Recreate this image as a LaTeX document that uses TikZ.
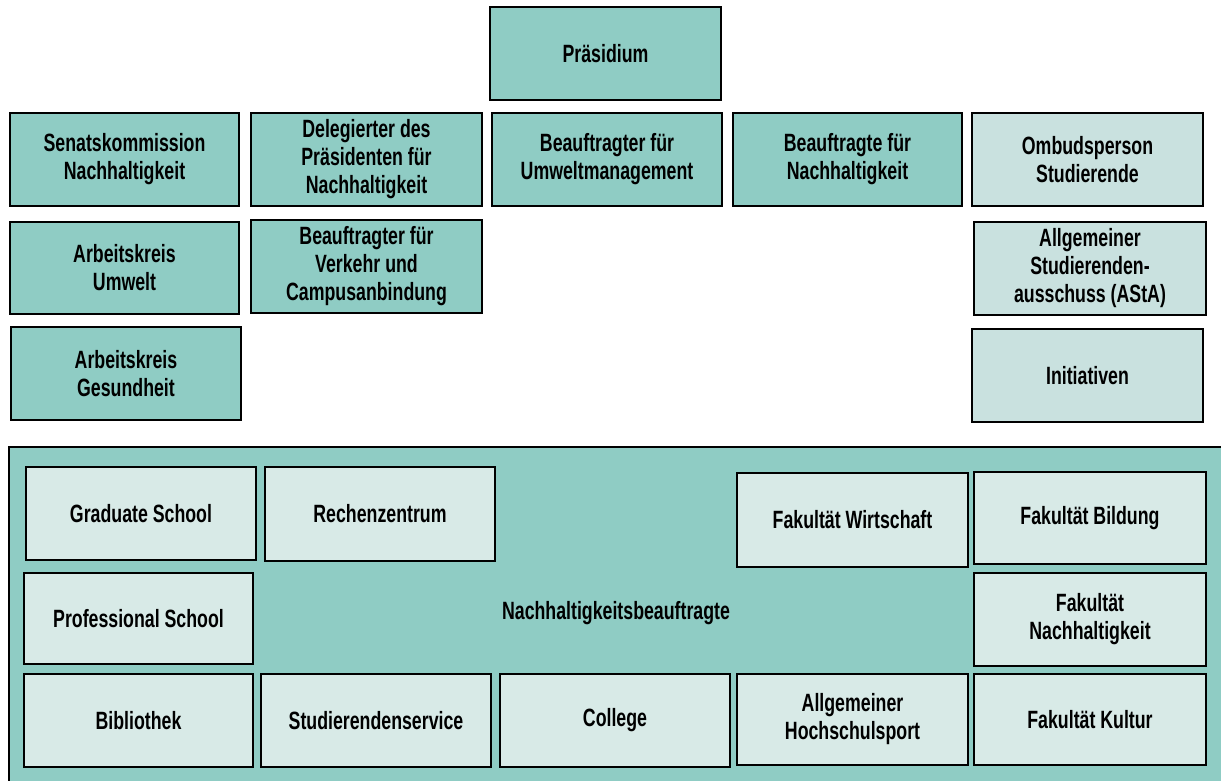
\documentclass[tikz,border=0pt]{standalone}
\usepackage{fontspec}
\setmainfont{Liberation Sans}[FakeStretch=0.71]
\definecolor{dark}{HTML}{8FCCC4}
\definecolor{inner}{HTML}{D8EAE7}
\definecolor{side}{HTML}{C9E1DF}
\tikzset{
  box/.style={draw=black, line width=1.5pt, align=center, inner sep=0pt,
    font=\bfseries\fontsize{25}{28}\selectfont},
  darkbox/.style={box, fill=dark},
  sidebox/.style={box, fill=side},
  innerbox/.style={box, fill=inner},
}
\begin{document}
\begin{tikzpicture}[x=1pt,y=-1pt]
\clip (0,0) rectangle (1221,780);
\fill[white] (0,0) rectangle (1221,780);
% top part
\node[darkbox, minimum width=231pt, minimum height=93pt] (praes) at (605.5,53.5) {Präsidium};
\node[darkbox, minimum width=229pt, minimum height=93pt] (senat) at (124.5,159.5) {Senatskommission\\Nachhaltigkeit};
\node[darkbox, minimum width=231pt, minimum height=93pt] (deleg) at (366.5,159.5) {Delegierter des\\Präsidenten für\\Nachhaltigkeit};
\node[darkbox, minimum width=230pt, minimum height=93pt] (umwelt) at (607,159.5) {Beauftragter für\\Umweltmanagement};
\node[darkbox, minimum width=229pt, minimum height=93pt] (beaufn) at (847.5,159.5) {Beauftragte für\\Nachhaltigkeit};
\node[sidebox, minimum width=231pt, minimum height=93pt] (ombud) at (1087.5,159.5) {Ombudsperson\\Studierende};
\node[darkbox, minimum width=229pt, minimum height=92pt] (akum) at (124.5,268) {Arbeitskreis\\Umwelt};
\node[darkbox, minimum width=231pt, minimum height=93pt] (verkehr) at (366.5,266.5) {Beauftragter für\\Verkehr und\\Campusanbindung};
\node[sidebox, minimum width=232pt, minimum height=93pt] (asta) at (1090,268.5) {Allgemeiner\\Studierenden-\\ausschuss (AStA)};
\node[darkbox, minimum width=230pt, minimum height=93pt] (akges) at (126,373.5) {Arbeitskreis\\Gesundheit};
\node[sidebox, minimum width=231pt, minimum height=93pt] (init) at (1087.5,375.5) {Initiativen};
% bottom frame
\draw[line width=1.5pt, fill=dark] (9,447) rectangle (1240,800);
\node[font=\bfseries\fontsize{25}{28}\selectfont] (nb) at (616,613) {Nachhaltigkeitsbeauftragte};
\node[innerbox, minimum width=230pt, minimum height=93pt] (grad) at (141,513.5) {Graduate School};
\node[innerbox, minimum width=230pt, minimum height=94pt] (rechen) at (380,514) {Rechenzentrum};
\node[innerbox, minimum width=231pt, minimum height=94pt] (wirt) at (852.5,520) {Fakultät Wirtschaft};
\node[innerbox, minimum width=232pt, minimum height=92pt] (bild) at (1090,518) {Fakultät Bildung};
\node[innerbox, minimum width=229pt, minimum height=91pt] (prof) at (138.5,618.5) {Professional School};
\node[innerbox, minimum width=232pt, minimum height=93pt] (faknach) at (1090,619.5) {Fakultät\\Nachhaltigkeit};
\node[innerbox, minimum width=229pt, minimum height=93pt] (bib) at (138.5,720.5) {Bibliothek};
\node[innerbox, minimum width=230pt, minimum height=93pt] (stud) at (376,720.5) {Studierendenservice};
\node[innerbox, minimum width=230pt, minimum height=93pt] (coll) at (615,720.5) {College};
\node[innerbox, minimum width=231pt, minimum height=91pt] (sport) at (852.5,719.5) {Allgemeiner\\Hochschulsport};
\node[innerbox, minimum width=232pt, minimum height=91pt] (kultur) at (1090,719.5) {Fakultät Kultur};
\end{tikzpicture}
\end{document}
